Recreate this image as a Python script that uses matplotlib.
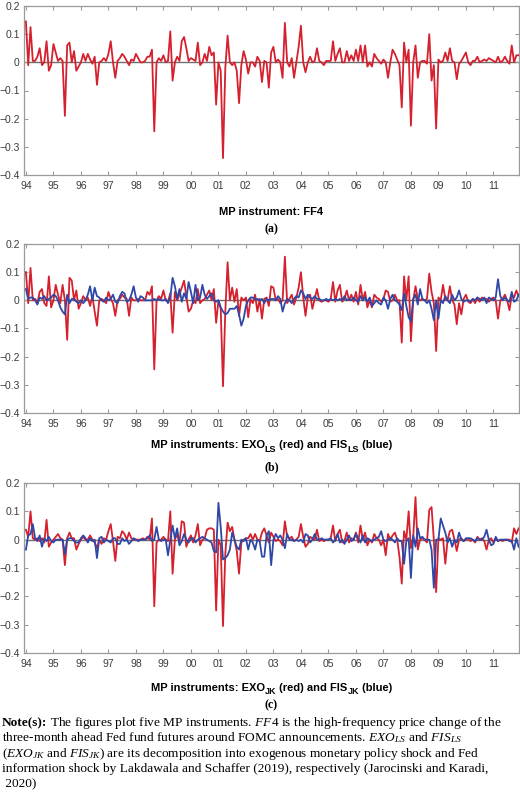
import numpy as np
import matplotlib
matplotlib.use("Agg")
import matplotlib.pyplot as plt

plt.rcParams['mathtext.fontset'] = 'custom'
plt.rcParams['mathtext.rm'] = 'Liberation Serif'
plt.rcParams['mathtext.it'] = 'Liberation Serif:italic'
plt.rcParams['mathtext.bf'] = 'Liberation Serif:bold'
plt.rcParams['mathtext.sf'] = 'Liberation Sans:bold'

start_year = 1994
year_ticks = list(range(1994, 2012))
year_labels = ['94', '95', '96', '97', '98', '99', '00', '01', '02', '03',
               '04', '05', '06', '07', '08', '09', '10', '11']
y_ticks = [-0.4, -0.3, -0.2, -0.1, 0.0, 0.1, 0.2]
y_labels = ['\u22120.4', '\u22120.3', '\u22120.2', '\u22120.1', '0', '0.1', '0.2']

ff4 = [
    0.145, -0.01, 0.125, 0.005, 0.005, 0.02, 0.05, -0.01, 0.0, 0.075, -0.03, -0.01,
    0.065, 0.035, 0.005, 0.015, 0.005, -0.19, 0.06, 0.07, 0.0, 0.04, -0.03, -0.015,
    0.0, 0.03, 0.005, 0.03, 0.01, -0.005, 0.02, -0.08, 0.0, 0.005, 0.015, 0.005,
    0.03, 0.075, 0.0, -0.055, 0.005, 0.015, 0.03, 0.02, 0.005, -0.01, 0.01, 0.005,
    0.03, 0.015, 0.0, 0.0, 0.005, 0.02, 0.02, 0.045, -0.245, 0.0, 0.015, 0.005,
    0.025, 0.0, 0.005, 0.11, -0.065, 0.0, 0.02, 0.005, 0.075, 0.09, 0.05, 0.005,
    0.015, 0.01, 0.005, 0.07, -0.01, 0.0, 0.03, 0.005, 0.055, 0.025, 0.035, -0.15,
    0.0, -0.03, -0.34, -0.02, 0.095, 0.0, -0.01, 0.0, -0.03, -0.145, -0.01, 0.04,
    0.01, -0.04, 0.0, 0.0, -0.015, 0.02, 0.005, -0.07, 0.005, 0.0, -0.09, 0.035,
    0.055, 0.0, 0.01, 0.0, -0.055, 0.14, 0.0, -0.015, 0.015, -0.055, 0.0, 0.055,
    0.13, 0.0, -0.035, 0.0, 0.02, 0.0, 0.005, 0.05, 0.005, 0.0, -0.01, 0.005,
    0.005, 0.005, 0.075, 0.005, 0.03, 0.05, 0.0, 0.0, 0.04, 0.005, 0.025, 0.005,
    0.045, 0.005, 0.06, 0.0, 0.06, -0.015, 0.0, -0.015, 0.03, 0.015, 0.005, -0.005,
    0.01, 0.0, -0.055, 0.0, 0.045, 0.03, 0.01, -0.01, -0.16, 0.07, 0.0, 0.045,
    -0.225, 0.0, 0.06, -0.055, 0.0, 0.005, 0.005, -0.005, 0.1, -0.065, -0.01, -0.235,
    0.01, 0.0, 0.005, 0.035, 0.005, 0.05, 0.005, 0.0, -0.06, -0.005, 0.005, 0.02,
    0.035, 0.0, -0.01, 0.005, 0.005, 0.02, 0.0, 0.005, 0.01, 0.005, 0.015, 0.01,
    0.005, 0.0, 0.02, 0.0, 0.005, 0.02, 0.005, -0.005, 0.06, 0.0, 0.025, 0.025,
]

exo_ls = [
    0.1, -0.01, 0.115, 0.0, 0.005, -0.01, 0.03, 0.04, -0.01, -0.02, 0.085, -0.025,
    0.0, 0.055, 0.02, -0.01, 0.055, 0.0, -0.14, 0.08, 0.07, 0.0, 0.035, -0.03,
    -0.01, 0.015, 0.0, 0.01, -0.02, 0.015, -0.04, -0.09, 0.0, 0.005, 0.0, -0.01,
    0.03, 0.005, -0.01, -0.055, 0.0, 0.005, 0.02, 0.01, 0.005, -0.055, 0.01, 0.0,
    0.0, 0.005, 0.0, 0.0, 0.0, 0.03, 0.02, 0.05, -0.245, 0.0, 0.015, 0.005,
    0.035, 0.0, -0.005, 0.025, -0.115, 0.03, 0.0, 0.02, 0.045, 0.07, 0.015, -0.04,
    -0.03, 0.0, -0.01, 0.04, -0.01, 0.0, 0.005, 0.02, 0.035, 0.0, 0.04, -0.08,
    0.0, -0.03, -0.305, -0.04, 0.135, 0.0, 0.045, -0.005, 0.04, -0.055, 0.01, 0.0,
    0.01, -0.06, 0.005, -0.01, 0.02, -0.04, 0.005, -0.065, 0.005, 0.01, -0.02, 0.05,
    0.045, 0.0, 0.005, -0.01, 0.0, 0.155, -0.01, 0.005, 0.02, -0.015, 0.01, 0.045,
    0.1, 0.01, -0.055, 0.01, 0.02, -0.03, 0.005, 0.04, 0.0, -0.005, 0.0, 0.0,
    -0.005, 0.005, 0.065, -0.005, 0.035, 0.055, -0.005, 0.005, 0.035, 0.0, 0.02, -0.005,
    0.03, -0.015, 0.055, 0.0, 0.03, -0.025, 0.0, -0.025, 0.02, 0.01, 0.005, -0.005,
    0.005, 0.035, 0.03, -0.005, 0.0, 0.02, 0.0, 0.0, -0.15, 0.085, 0.0, 0.085,
    -0.145, 0.0, 0.05, 0.005, 0.0, 0.005, 0.0, 0.005, 0.095, 0.03, -0.01, -0.18,
    0.01, 0.0, 0.055, 0.005, 0.0, 0.05, 0.0, -0.015, -0.085, -0.01, -0.05, 0.005,
    0.02, -0.005, -0.01, 0.005, -0.01, 0.01, -0.005, 0.01, 0.005, 0.005, -0.005, 0.005,
    0.01, 0.0, -0.065, 0.0, 0.005, 0.02, 0.0, -0.035, 0.02, 0.01, 0.035, 0.015,
]

fis_ls = [
    0.04, 0.005, 0.01, 0.01, 0.0, -0.015, 0.01, 0.005, 0.015, 0.0, 0.005, 0.01,
    0.02, 0.015, 0.0, -0.025, -0.04, -0.05, 0.02, -0.01, 0.005, 0.005, -0.005, -0.01,
    0.0, -0.01, 0.0, 0.02, 0.05, 0.0, 0.045, 0.015, 0.01, 0.0, -0.005, 0.01,
    0.0, 0.005, 0.02, -0.005, -0.01, 0.015, 0.03, 0.025, -0.005, 0.0, 0.02, 0.05,
    0.01, -0.005, 0.015, 0.01, 0.0, 0.0, 0.0, 0.0, 0.005, 0.0, 0.005, 0.0,
    0.0, 0.005, -0.01, 0.01, 0.08, 0.05, 0.005, 0.04, -0.005, 0.025, 0.005, 0.065,
    0.03, -0.01, 0.055, 0.0, 0.01, 0.055, 0.02, 0.005, 0.015, 0.025, 0.0, -0.005,
    0.0, -0.025, -0.04, -0.05, -0.045, -0.03, -0.03, -0.03, -0.02, -0.05, -0.09, -0.065,
    -0.02, 0.0, 0.01, 0.01, 0.005, 0.005, 0.0, 0.005, -0.01, 0.005, 0.0, 0.005,
    0.005, 0.0, 0.015, 0.005, -0.04, -0.01, 0.005, 0.0, -0.01, 0.005, 0.015, 0.01,
    0.035, 0.025, 0.005, 0.02, 0.01, 0.005, 0.015, 0.005, 0.005, 0.0, 0.0, 0.005,
    0.0, 0.005, 0.0, 0.005, 0.0, 0.005, 0.0, 0.015, 0.0, 0.005, 0.0, 0.01,
    0.0, -0.005, 0.015, 0.0, 0.01, -0.005, 0.01, -0.02, -0.01, 0.0, -0.01, -0.015,
    0.01, 0.0, -0.03, 0.005, 0.02, 0.0, -0.005, -0.015, -0.035, 0.025, -0.02, -0.06,
    -0.075, 0.005, 0.02, -0.015, 0.04, 0.005, 0.0, -0.01, 0.0, -0.03, -0.07, 0.0,
    -0.065, 0.0, -0.01, 0.015, 0.0, -0.01, 0.02, 0.0, 0.01, 0.035, 0.005, -0.005,
    0.0, 0.0, -0.005, 0.005, 0.0, 0.01, 0.005, 0.0, 0.01, -0.01, 0.01, 0.005,
    0.0, 0.01, 0.075, 0.015, 0.0, 0.01, 0.0, -0.005, 0.03, -0.005, 0.0, 0.02,
]

exo_jk = [
    0.035, 0.01, 0.1, 0.005, 0.0, 0.005, -0.005, 0.005, -0.01, 0.07, -0.025, -0.01,
    0.0, 0.01, 0.02, 0.005, 0.0, -0.09, 0.005, 0.025, 0.005, 0.005, -0.035, -0.015,
    0.0, 0.01, 0.0, 0.0, 0.015, 0.0, -0.01, -0.03, 0.0, -0.015, 0.005, 0.0,
    0.03, 0.055, -0.005, -0.075, 0.01, 0.005, 0.03, 0.02, 0.0, 0.025, 0.005, 0.0,
    0.0, 0.0, 0.0, 0.005, 0.0, 0.01, 0.0, 0.075, -0.235, -0.01, 0.0, 0.0,
    0.01, 0.0, -0.005, 0.1, -0.12, 0.0, 0.02, -0.01, 0.065, 0.06, -0.025, 0.0,
    0.015, -0.01, 0.015, 0.055, -0.02, 0.0, 0.005, 0.035, 0.04, 0.04, 0.035, -0.25,
    0.0, -0.02, -0.305, -0.05, 0.06, 0.03, 0.045, 0.0, -0.04, -0.12, -0.01, 0.0,
    0.005, 0.005, 0.02, 0.0, 0.02, 0.0, -0.005, 0.025, 0.04, 0.015, -0.01, 0.025,
    0.01, -0.005, 0.0, -0.005, -0.02, 0.065, 0.01, 0.005, 0.01, -0.005, 0.0, 0.01,
    0.055, 0.01, -0.025, -0.015, 0.01, 0.005, 0.0, 0.035, -0.005, 0.0, -0.005, 0.0,
    0.0, 0.005, 0.05, -0.005, 0.02, 0.035, -0.01, -0.005, 0.025, -0.01, 0.005, 0.0,
    0.025, -0.01, 0.05, 0.0, 0.025, -0.02, 0.0, -0.01, 0.02, 0.005, 0.0, -0.02,
    0.0, -0.055, 0.02, 0.0, 0.015, 0.025, 0.0, -0.06, -0.155, 0.03, 0.0, 0.1,
    -0.03, 0.01, 0.15, -0.035, 0.0, 0.005, 0.0, -0.01, 0.105, 0.115, 0.0, -0.185,
    0.005, 0.0, 0.005, -0.085, 0.0, 0.03, 0.035, 0.0, -0.04, 0.0, 0.005, -0.005,
    0.0, 0.005, -0.005, 0.0, -0.01, 0.01, 0.0, 0.005, -0.005, -0.035, 0.0, 0.005,
    -0.01, 0.005, -0.005, 0.0, -0.005, 0.0, 0.0, 0.0, -0.01, 0.04, 0.02, 0.04,
]

fis_jk = [
    -0.035, 0.015, 0.02, 0.055, 0.005, -0.005, 0.015, -0.025, 0.005, -0.005, 0.01, -0.005,
    -0.01, 0.0, 0.0, 0.0, 0.0, -0.05, 0.0, 0.005, 0.005, -0.005, -0.01, -0.01,
    0.005, 0.015, 0.005, -0.01, 0.005, -0.005, 0.0, -0.065, 0.005, 0.01, -0.01, 0.0,
    -0.005, -0.01, 0.005, 0.005, -0.015, -0.015, 0.005, -0.005, 0.0, -0.015, -0.005, 0.005,
    0.0, -0.005, 0.0, 0.0, 0.0, 0.005, 0.015, -0.005, 0.0, 0.045, 0.0, -0.005,
    0.0, 0.0, -0.055, 0.0, 0.05, 0.005, 0.04, -0.02, -0.005, 0.02, 0.0, -0.01,
    0.005, 0.005, -0.01, 0.0, 0.005, 0.01, 0.005, 0.0, -0.005, -0.01, -0.04, -0.045,
    0.13, 0.045, -0.07, -0.065, -0.055, -0.035, 0.025, 0.0, -0.025, -0.035, 0.0, -0.005,
    0.005, -0.035, 0.0, -0.01, -0.035, 0.0, -0.005, -0.06, -0.06, 0.015, 0.03, -0.09,
    0.0, 0.02, 0.005, 0.015, 0.0, -0.03, 0.02, 0.0, 0.0, -0.005, 0.0, -0.005,
    0.0, -0.01, 0.02, 0.015, -0.01, 0.0, 0.02, 0.0, 0.0, 0.005, 0.0, 0.0,
    0.0, 0.005, -0.01, 0.0, 0.02, -0.01, 0.0, -0.015, 0.0, 0.015, -0.005, 0.0,
    0.02, 0.005, -0.01, 0.015, -0.01, 0.005, 0.0, -0.005, 0.0, 0.005, 0.01, 0.03,
    0.0, -0.005, 0.0, 0.005, 0.0, -0.01, 0.005, -0.005, -0.005, -0.085, -0.005, 0.005,
    -0.135, 0.015, -0.025, 0.04, 0.005, 0.01, 0.0, 0.0, 0.0, -0.035, -0.17, 0.0,
    0.0, 0.075, 0.05, 0.025, -0.01, 0.005, -0.025, 0.0, -0.01, 0.025, 0.0, -0.005,
    0.005, 0.005, 0.005, 0.0, -0.005, 0.005, 0.0, 0.0, 0.01, 0.035, 0.0, -0.02,
    -0.015, 0.01, -0.005, 0.0, 0.0, 0.0, 0.0, -0.005, -0.005, -0.035, 0.005, -0.025,
]

RED = '#d5202e'
BLUE = '#2f48a8'
FRAME = '#9a9a9a'
TXT = '#3c3c3c'

t = start_year + np.arange(len(ff4)) / 12.0

fig = plt.figure(figsize=(5.2, 8.02), dpi=100)
W, H = 520.0, 802.0
renderer = fig.canvas.get_renderer()


def make_ax(top_px, bot_px):
    left, right = 24.0, 519.0
    ax = fig.add_axes([left / W, 1 - bot_px / H, (right - left) / W, (bot_px - top_px) / H])
    ax.set_xlim(1993.93, 2011.93)
    ax.set_ylim(-0.4, 0.2)
    ax.axhline(0, color='#6e6e6e', lw=1.0, zorder=1)
    ax.set_xticks(year_ticks)
    ax.set_xticklabels(year_labels)
    ax.set_yticks(y_ticks)
    ax.set_yticklabels(y_labels)
    ax.tick_params(direction='in', length=3, width=0.8, color=FRAME,
                   labelcolor=TXT, labelsize=7.5, top=True, right=True)
    ax.tick_params(axis='x', pad=4)
    ax.tick_params(axis='y', pad=3)
    for lab in ax.get_xticklabels() + ax.get_yticklabels():
        lab.set_family('Liberation Sans')
    for s in ax.spines.values():
        s.set_color(FRAME)
        s.set_linewidth(0.9)
    return ax


ax1 = make_ax(6, 175)
ax1.plot(t, ff4, color=RED, lw=1.3, zorder=3)

ax2 = make_ax(244, 413)
ax2.plot(t, exo_ls, color=RED, lw=1.3, zorder=3)
ax2.plot(t, fis_ls, color=BLUE, lw=1.3, zorder=4)

ax3 = make_ax(483, 653)
ax3.plot(t, exo_jk, color=RED, lw=1.3, zorder=3)
ax3.plot(t, fis_jk, color=BLUE, lw=1.3, zorder=4)

cx_px = (24 + 519) / 2


def text_width(s, size, family='Liberation Sans', weight='bold'):
    # width in pixels, robust to leading spaces
    a = fig.text(0, 0, 'x' + s, fontsize=size, family=family, weight=weight)
    b = fig.text(0, 0, 'x', fontsize=size, family=family, weight=weight)
    w = a.get_window_extent(renderer).width - b.get_window_extent(renderer).width
    a.remove()
    b.remove()
    return w


def seg_title(base_px, segs):
    widths = [text_width(s, sz) for s, sz, dy in segs]
    x = cx_px - sum(widths) / 2
    for (s, sz, dy), w in zip(segs, widths):
        fig.text(x / W, 1 - (base_px + dy) / H, s,
                 fontsize=sz, family='Liberation Sans', weight='bold',
                 ha='left', va='baseline', color='black')
        x += w


serif_b = dict(family='Liberation Serif', weight='bold', fontsize=8.5, color='black',
               ha='center', va='center')

seg_title(215, [('MP instrument: FF4', 8, 0)])
fig.text(cx_px / W, 1 - 229 / H, '(a)', **serif_b)

seg_title(448, [('MP instruments: EXO', 8, 0), ('LS', 6.5, 3.5),
                (' (red) and FIS', 8, 0), ('LS', 6.5, 3.5), (' (blue)', 8, 0)])
fig.text(cx_px / W, 1 - 467 / H, '(b)', **serif_b)

seg_title(691, [('MP instruments: EXO', 8, 0), ('JK', 6.5, 3.5),
                (' (red) and FIS', 8, 0), ('JK', 6.5, 3.5), (' (blue)', 8, 0)])
fig.text(cx_px / W, 1 - 705 / H, '(c)', **serif_b)

NFS = 9.6
note = dict(family='Liberation Serif', fontsize=NFS, color='black', ha='left', va='baseline')
ys = [726, 741.4, 756.8, 772.2, 787.6]

# first line: bold lead-in, then the rest
lead = 'Note(s):'
fig.text(2 / W, 1 - ys[0] / H, lead, weight='bold', **note)
lead_w = text_width(lead, NFS, family='Liberation Serif', weight='bold')
fig.text((2 + lead_w + 2.5) / W, 1 - ys[0] / H,
         r'The figures plot five MP instruments. $\mathit{FF4}$ is the high-frequency price change of the',
         **note)

note_lines = [
    r'three-month ahead Fed fund futures around FOMC announcements. $\mathit{EXO}_{\mathit{LS}}$ and $\mathit{FIS}_{\mathit{LS}}$',
    r'($\mathit{EXO}_{\mathit{JK}}$ and $\mathit{FIS}_{\mathit{JK}}$) are its decomposition into exogenous monetary policy shock and Fed',
    r'information shock by Lakdawala and Schaffer (2019), respectively (Jarocinski and Karadi,',
    r' 2020)',
]
for s, y in zip(note_lines, ys[1:]):
    fig.text(2 / W, 1 - y / H, s, **note)

fig.savefig('out.png', dpi=100)
